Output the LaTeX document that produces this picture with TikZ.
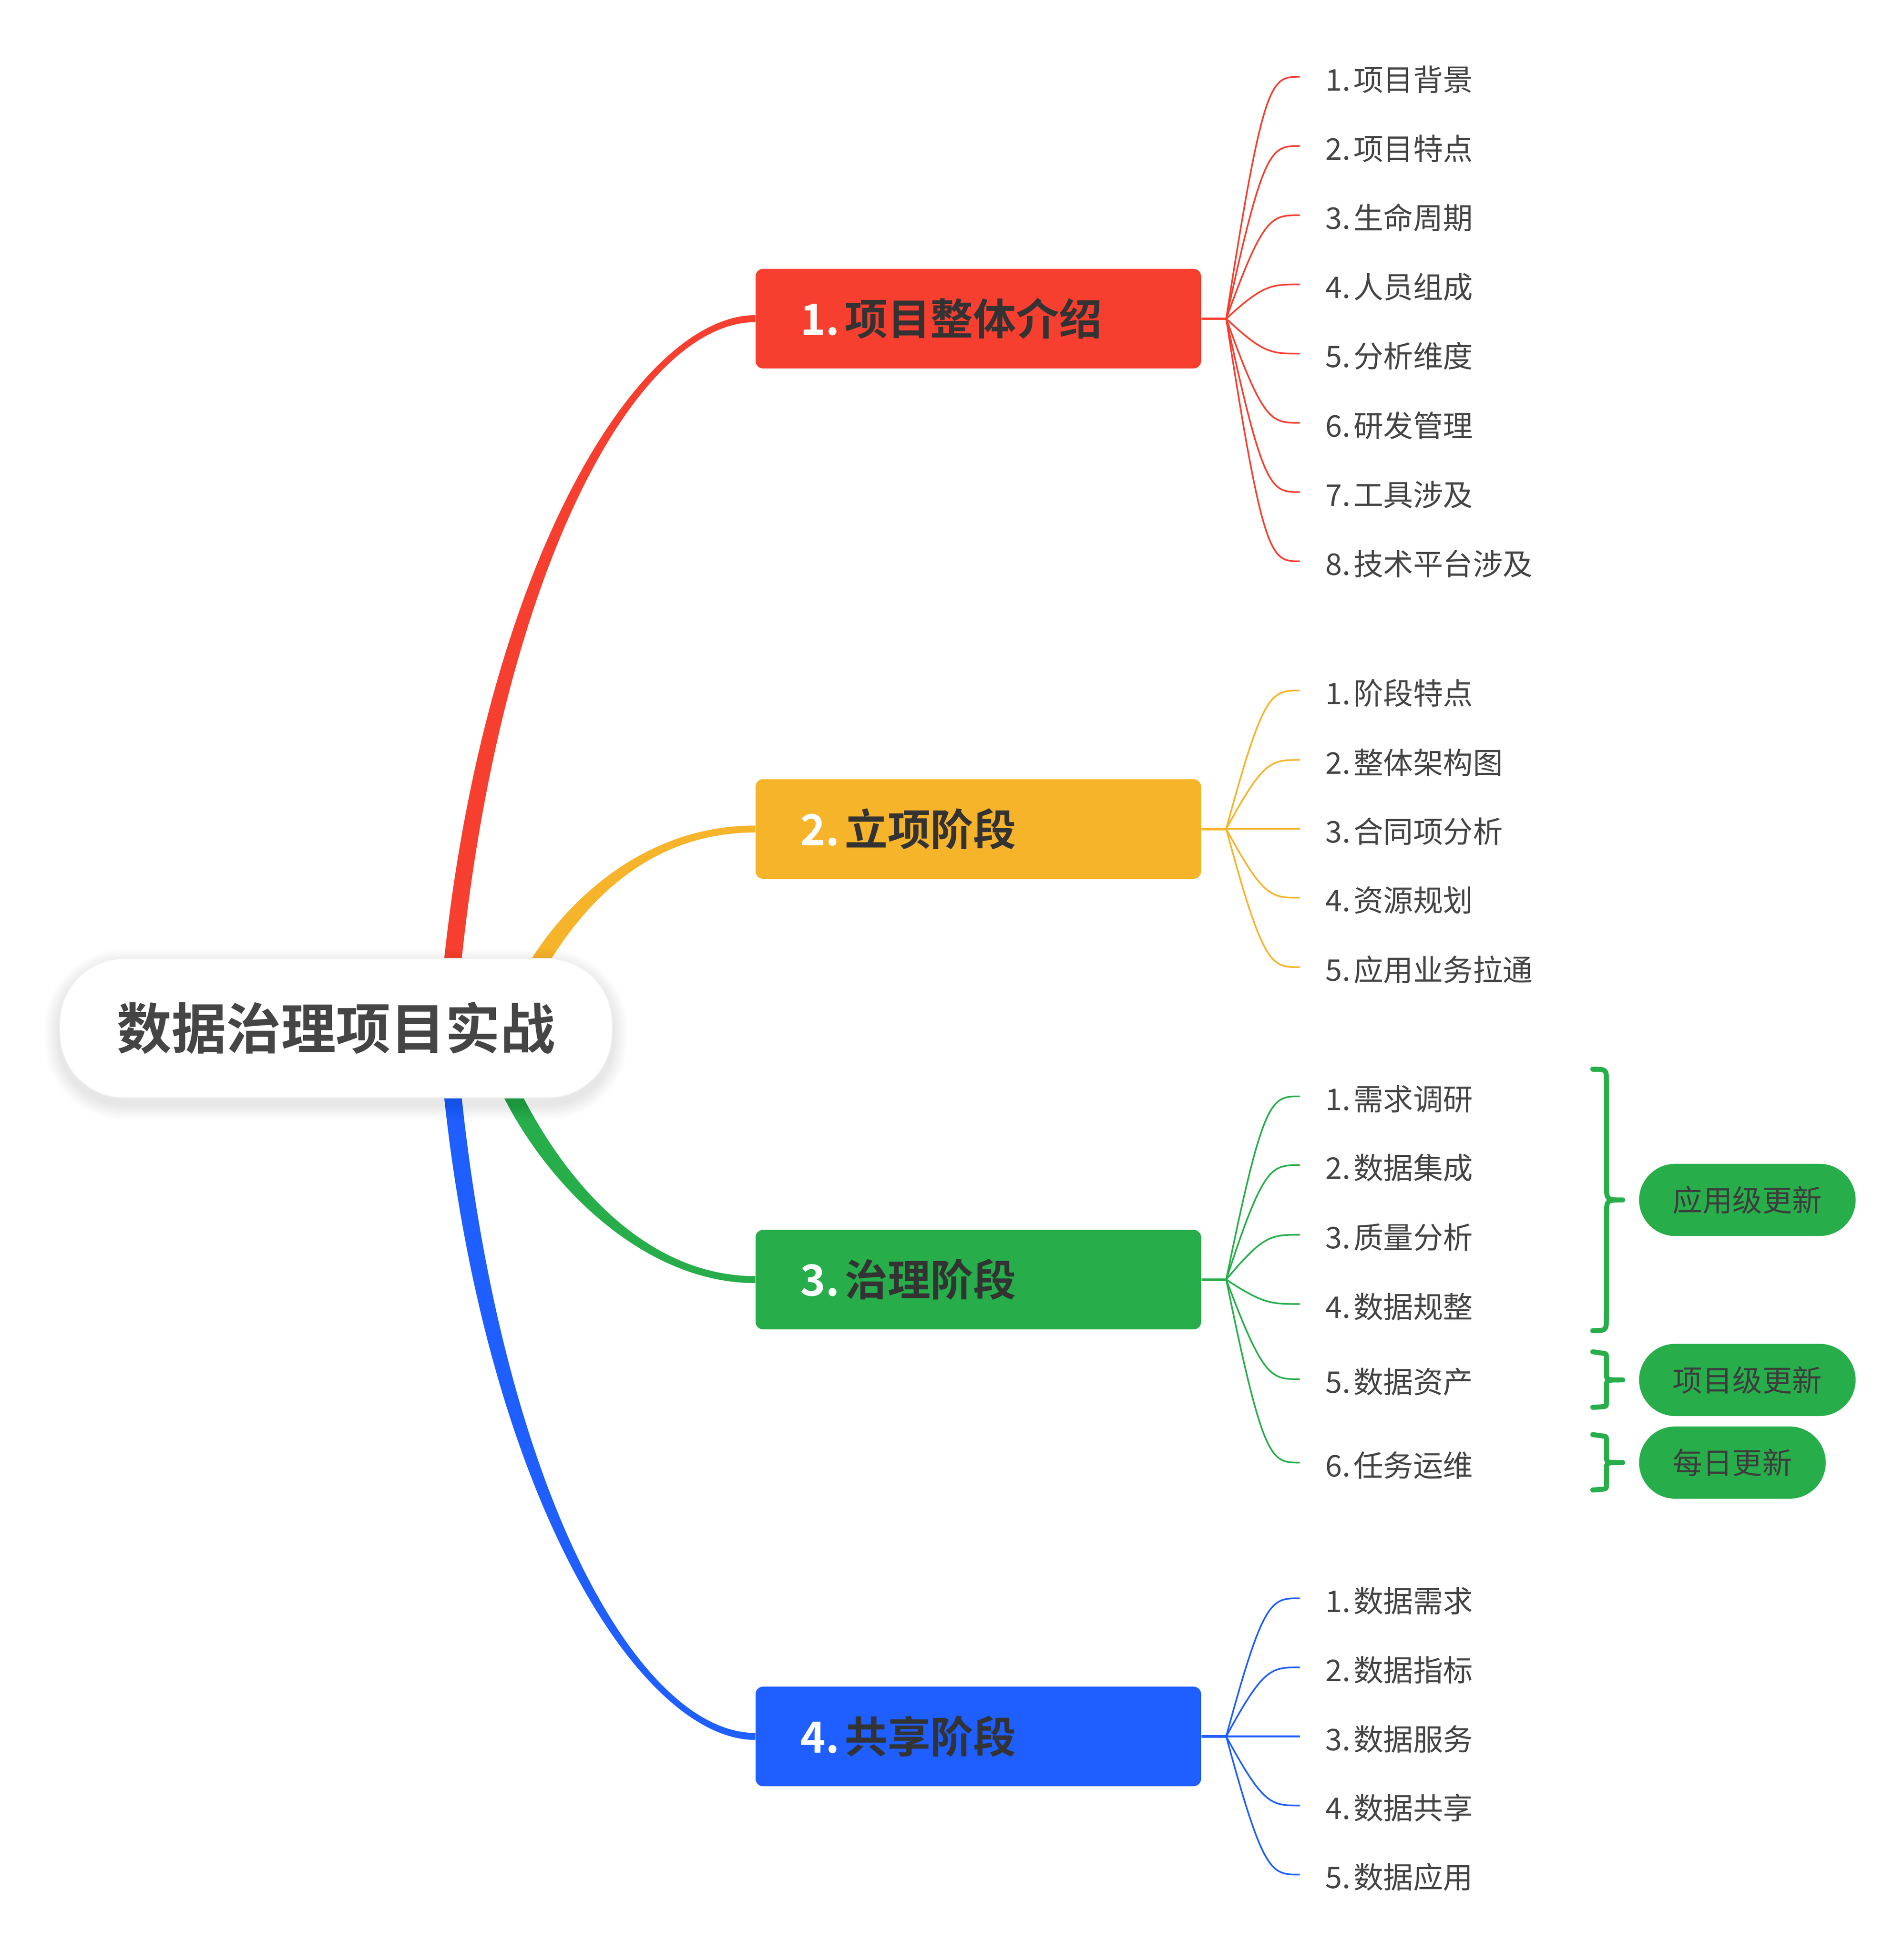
\documentclass[tikz,border=0pt]{standalone}
\usepackage{fontspec}
\setmainfont{Noto Sans CJK SC}[BoldFont={Noto Sans CJK SC Bold}]
\usetikzlibrary{calc}
\definecolor{cred}{HTML}{F73F30}
\definecolor{corange}{HTML}{F6B42B}
\definecolor{cgreen}{HTML}{27AE4B}
\definecolor{cblue}{HTML}{1F5EFF}
\definecolor{leafgray}{HTML}{444444}
\definecolor{darktext}{HTML}{333333}
\definecolor{roottext}{HTML}{454545}
\definecolor{pilltext}{HTML}{3D3D3D}
\pgfdeclarelayer{canvas}
\pgfdeclarelayer{background}
\pgfdeclarelayer{shadowlayer}
\pgfsetlayers{canvas,background,shadowlayer,main}

\newcommand\taperline[7]{%
  \coordinate (tA) at ($(#1)!#5!90:(#2)$);
  \coordinate (tB) at ($(#1)!#5!-90:(#2)$);
  \coordinate (tD) at ($(#4)!#6!-90:(#3)$);
  \coordinate (tC) at ($(#4)!#6!90:(#3)$);
  \fill[#7] (tA) .. controls ($(#2)+(tA)-(#1)$) and ($(#3)+(tD)-(#4)$) .. (tD)
     -- (tC) .. controls ($(#3)+(tC)-(#4)$) and ($(#2)+(tB)-(#1)$) .. (tB) -- cycle;
}
\newcommand\leafline[3]{%
  \coordinate (tE) at ([xshift=-20.5pt,yshift=2pt]#2.west);
  \coordinate (tP) at ($(#1)+(30,0)$);
  \coordinate (tQ) at ($(#1)+(36,0)$);
  \draw[leafline,#3] (#1) .. controls (tP |- tE) and (tQ |- tE) .. (tE);
}

\begin{document}
\begin{tikzpicture}[x=1pt,y=-1pt,
  every node/.style={inner sep=0pt},
  rootbox/.style={draw=black!6, line width=0.8pt, fill=white, rounded corners=52pt,
    minimum width=444pt, minimum height=112pt,
    font=\fontsize{44}{50}\selectfont\bfseries, text=roottext, text height=37pt, text depth=3.5pt},
  branchbox/.style={fill=#1, rounded corners=6pt, anchor=west, minimum height=80pt,
    text width=286pt, inner xsep=36pt, inner ysep=0pt, align=left,
    font=\fontsize{34.5}{40}\selectfont\bfseries, text=darktext, text height=29pt, text depth=2.8pt},
  leaftext/.style={anchor=west, font=\fontsize{24}{28}\selectfont, text=leafgray,
    text height=20.2pt, text depth=1.9pt},
  pill/.style={fill=cgreen, rounded corners=29pt, anchor=west, minimum height=58pt,
    inner xsep=27pt, font=\fontsize{24}{28}\selectfont, text=pilltext,
    text height=20.2pt, text depth=1.9pt},
  leafline/.style={line width=1.3pt},
  stub/.style={line width=2pt},
  bracestyle/.style={draw=cgreen, line width=4pt, line cap=round, line join=round}
]
\begin{pgfonlayer}{canvas}
\fill[white] (0,0) rectangle (1530,1569);
\end{pgfonlayer}
\useasboundingbox (0,0) rectangle (1530,1569);

% root
\node[rootbox] (root) at (270,826) {数据治理项目实战};

% branch boxes
\node[branchbox=cred]    (b1) at (607,256)  {{\color{white}1.}\kern4pt项目整体介绍};
\node[branchbox=corange] (b2) at (607,666)  {{\color{white}2.}\kern4pt立项阶段};
\node[branchbox=cgreen]  (b3) at (607,1028) {{\color{white}3.}\kern4pt治理阶段};
\node[branchbox=cblue]   (b4) at (607,1395) {{\color{white}4.}\kern4pt共享阶段};

% hubs
\coordinate (h1) at ([xshift=20pt]b1.east);
\coordinate (h2) at ([xshift=20pt]b2.east);
\coordinate (h3) at ([xshift=20pt]b3.east);
\coordinate (h4) at ([xshift=20pt]b4.east);

% leaves
\foreach \n/\y/\t in {1/63.7/项目背景, 2/119.3/项目特点, 3/174.9/生命周期, 4/230.5/人员组成,
  5/286.1/分析维度, 6/341.7/研发管理, 7/397.3/工具涉及, 8/452.9/技术平台涉及}
  \node[leaftext] (l1\n) at (1065,\y) {\n.\kern2.5pt\t};
\foreach \n/\y/\t in {1/556.8/阶段特点, 2/612.5/整体架构图, 3/668/合同项分析,
  4/723.2/资源规划, 5/779/应用业务拉通}
  \node[leaftext] (l2\n) at (1065,\y) {\n.\kern2.5pt\t};
\foreach \n/\y/\t in {1/882.8/需求调研, 2/938/数据集成, 3/994/质量分析,
  4/1049.6/数据规整, 5/1110/数据资产, 6/1177/任务运维}
  \node[leaftext] (l3\n) at (1065,\y) {\n.\kern2.5pt\t};
\foreach \n/\y/\t in {1/1286/数据需求, 2/1341.5/数据指标, 3/1397/数据服务,
  4/1452.5/数据共享, 5/1508/数据应用}
  \node[leaftext] (l4\n) at (1065,\y) {\n.\kern2.5pt\t};

% pills
\node[pill] (p1) at (1317,964)    {应用级更新};
\node[pill] (p2) at (1317,1108.6) {项目级更新};
\node[pill] (p3) at (1317,1175)   {每日更新};

% shadow of root
\begin{pgfonlayer}{shadowlayer}
\foreach \i in {1,...,12}{
  \pgfmathsetmacro\rr{52+\i}
  \fill[black, opacity=0.009, rounded corners=\rr pt]
    ($(root.north west)+(-\i,-\i+5)$) rectangle ($(root.south east)+(\i,\i+5)$);
}
\end{pgfonlayer}

\begin{pgfonlayer}{background}
% main branches (tapered)
\coordinate (r1s) at (362,790);  \coordinate (r1a) at (394,455);  \coordinate (r1b) at (513,256);
\coordinate (r2s) at (428,782);  \coordinate (r2a) at (455,735);  \coordinate (r2b) at (512,666);
\coordinate (r3s) at (407,870);  \coordinate (r3a) at (442,945);  \coordinate (r3b) at (515,1028);
\coordinate (r4s) at (362,862);  \coordinate (r4a) at (394,1197); \coordinate (r4b) at (513,1395);
\taperline{r1s}{r1a}{r1b}{b1.west}{7pt}{2.8pt}{cred}
\taperline{r2s}{r2a}{r2b}{b2.west}{6.8pt}{2.8pt}{corange}
\taperline{r3s}{r3a}{r3b}{b3.west}{7pt}{2.8pt}{cgreen}
\taperline{r4s}{r4a}{r4b}{b4.west}{7pt}{2.8pt}{cblue}

% stubs
\draw[stub,cred]    (b1.east) -- (h1);
\draw[stub,corange] (b2.east) -- (h2);
\draw[stub,cgreen]  (b3.east) -- (h3);
\draw[stub,cblue]   (b4.east) -- (h4);

% leaf connectors
\foreach \n in {1,...,8} {\leafline{h1}{l1\n}{cred}}
\foreach \n in {1,...,5} {\leafline{h2}{l2\n}{corange}}
\foreach \n in {1,...,6} {\leafline{h3}{l3\n}{cgreen}}
\foreach \n in {1,...,5} {\leafline{h4}{l4\n}{cblue}}
\end{pgfonlayer}

% braces
\coordinate (t1) at ([xshift=-13pt]p1.west);
\coordinate (t2) at ([xshift=-13pt]p2.west);
\coordinate (t3) at ([xshift=-13pt]p3.west);
\draw[bracestyle] (1280,859) .. controls (1291,859) .. (1291,870) -- (1291,952)
  .. controls (1291,964) .. (t1) .. controls (1291,964) .. (1291,976) -- (1291,1057)
  .. controls (1291,1069) .. (1280,1069);
\draw[bracestyle] (1280,1086) -- (1287,1087) .. controls (1291,1087.5) .. (1291,1091) -- (1291,1104)
  .. controls (1291,1108.6) .. (t2) .. controls (1291,1108.6) .. (1291,1113) -- (1291,1126)
  .. controls (1291,1129.8) .. (1287,1130.2) -- (1280,1130.6);
\draw[bracestyle] (1280,1152.5) -- (1287,1153.5) .. controls (1291,1154) .. (1291,1158) -- (1291,1170.5)
  .. controls (1291,1175) .. (t3) .. controls (1291,1175) .. (1291,1179.5) -- (1291,1192)
  .. controls (1291,1196) .. (1287,1196.5) -- (1280,1197);
\end{tikzpicture}
\end{document}
